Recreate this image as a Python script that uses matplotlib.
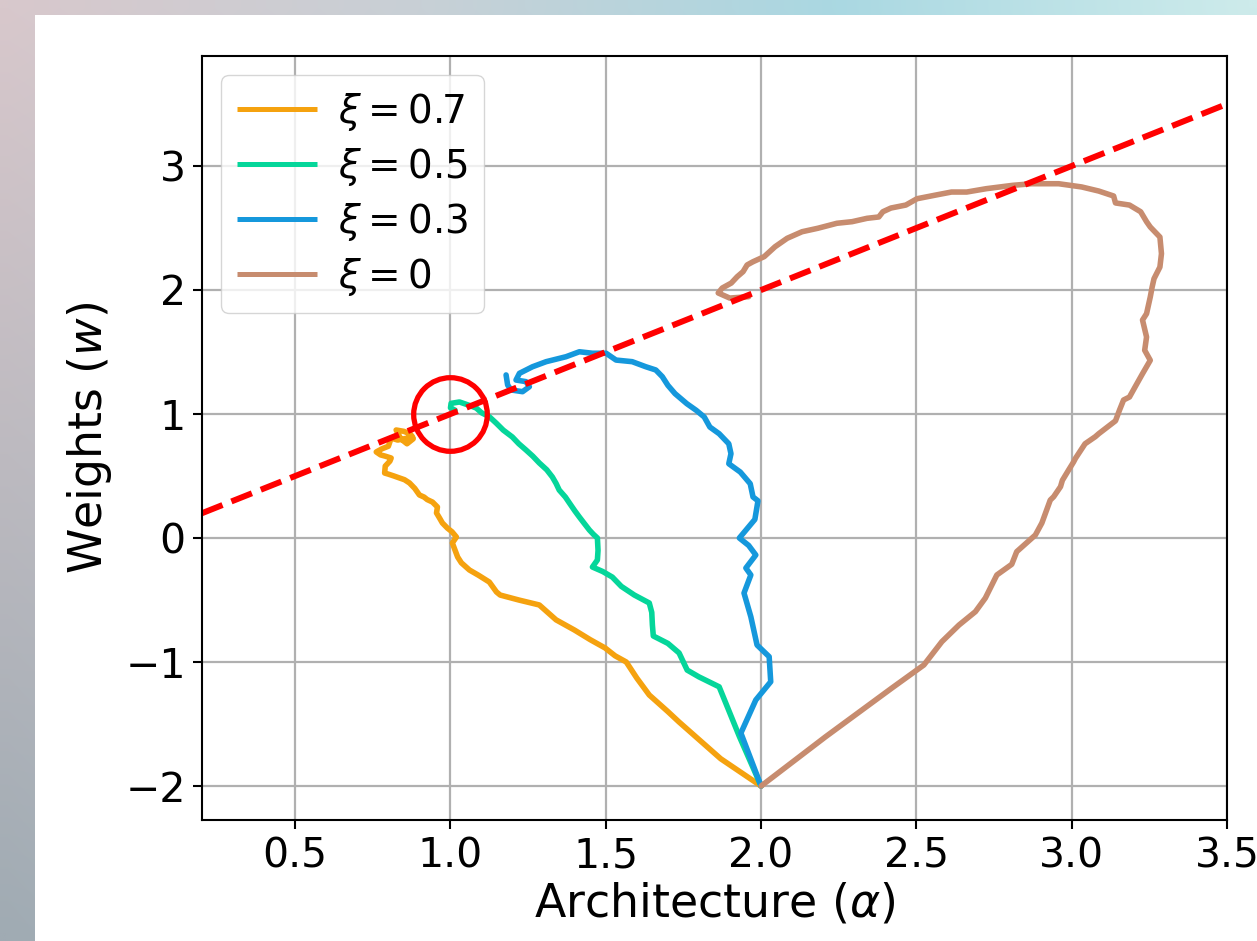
import numpy as np
import matplotlib
matplotlib.use("Agg")
import matplotlib.pyplot as plt
from matplotlib.patches import Rectangle

# ---------------- data ----------------
labels = [r"$\xi = 0.7$", r"$\xi = 0.5$", r"$\xi = 0.3$", r"$\xi = 0$"]
colors = ["#f5a20f", "#05d69a", "#1598dc", "#c78c6f"]

x_07 = [2.0, 1.87, 1.736, 1.70, 1.64, 1.60, 1.566, 1.53, 1.498, 1.45, 1.399, 1.34, 1.286, 1.22,
        1.16, 1.148, 1.125, 1.09, 1.061, 1.035, 1.023, 1.015, 1.006, 1.019, 1.005, 0.99, 0.974,
        0.965, 0.955, 0.958, 0.942, 0.925, 0.915, 0.900, 0.885, 0.868, 0.852, 0.836, 0.818, 0.80,
        0.788, 0.79, 0.805, 0.809, 0.79, 0.775, 0.761, 0.78, 0.80, 0.809, 0.83, 0.85, 0.878, 0.87,
        0.85, 0.825, 0.84, 0.86, 0.88]
y_07 = [-2.0, -1.78, -1.484, -1.40, -1.266, -1.13, -1.0, -0.95, -0.887, -0.82, -0.742, -0.66,
        -0.54, -0.50, -0.46, -0.435, -0.355, -0.30, -0.258, -0.20, -0.153, -0.10, -0.04, 0.008,
        0.05, 0.08, 0.121, 0.16, 0.202, 0.25, 0.29, 0.31, 0.33, 0.347, 0.40, 0.444, 0.47, 0.484,
        0.50, 0.515, 0.524, 0.58, 0.62, 0.645, 0.66, 0.67, 0.694, 0.72, 0.74, 0.806, 0.79, 0.80,
        0.815, 0.84, 0.86, 0.871, 0.80, 0.76, 0.80]

x_05 = [2.0, 1.93, 1.865, 1.80, 1.762, 1.736, 1.70, 1.653, 1.650, 1.648, 1.640, 1.592, 1.55,
        1.521, 1.49, 1.457, 1.473, 1.475, 1.473, 1.46, 1.447, 1.43, 1.415, 1.40, 1.383, 1.37,
        1.350, 1.34, 1.328, 1.31, 1.286, 1.265, 1.243, 1.22, 1.199, 1.17, 1.147, 1.125, 1.10,
        1.083, 1.06, 1.029, 1.002, 1.0, 1.015]
y_05 = [-2.0, -1.6, -1.20, -1.12, -1.065, -0.927, -0.85, -0.79, -0.70, -0.60, -0.524, -0.46,
        -0.39, -0.315, -0.27, -0.234, -0.177, -0.10, 0.0, 0.03, 0.065, 0.12, 0.169, 0.22, 0.282,
        0.33, 0.387, 0.44, 0.492, 0.55, 0.605, 0.66, 0.710, 0.76, 0.815, 0.87, 0.927, 0.978,
        1.01, 1.048, 1.07, 1.097, 1.086, 1.05, 1.03]

x_03 = [2.0, 1.935, 1.983, 2.031, 2.026, 1.987, 1.967, 1.945, 1.967, 1.951, 1.983, 1.96, 1.93,
        1.95, 1.98, 1.99, 1.974, 1.965, 1.933, 1.896, 1.903, 1.896, 1.865, 1.835, 1.817, 1.791,
        1.761, 1.723, 1.700, 1.682, 1.661, 1.629, 1.585, 1.533, 1.501, 1.457, 1.415, 1.372,
        1.308, 1.264, 1.222, 1.211, 1.243, 1.254, 1.232, 1.195, 1.184, 1.179]
y_03 = [-2.0, -1.573, -1.306, -1.159, -0.957, -0.863, -0.635, -0.444, -0.298, -0.242, -0.137,
        -0.06, 0.0, 0.06, 0.15, 0.30, 0.331, 0.438, 0.532, 0.599, 0.680, 0.760, 0.841, 0.895,
        0.976, 1.030, 1.083, 1.164, 1.231, 1.301, 1.355, 1.381, 1.422, 1.435, 1.490, 1.490,
        1.502, 1.462, 1.422, 1.381, 1.328, 1.274, 1.261, 1.220, 1.180, 1.194, 1.234, 1.315]

x_00 = [2.0, 2.208, 2.421, 2.524, 2.582, 2.637, 2.690, 2.722, 2.759, 2.807, 2.823, 2.883, 2.904,
        2.931, 2.942, 2.964, 2.970, 2.990, 3.006, 3.012, 3.043, 3.076, 3.087, 3.141, 3.154, 3.167,
        3.186, 3.204, 3.228, 3.253, 3.235, 3.241, 3.228, 3.241, 3.253, 3.259, 3.265, 3.284, 3.289,
        3.284, 3.253, 3.241, 3.222, 3.186, 3.141, 3.135, 3.087, 3.032, 2.958, 2.871, 2.810, 2.725,
        2.662, 2.613, 2.563, 2.502, 2.466, 2.418, 2.392, 2.379, 2.341, 2.293, 2.244, 2.183, 2.132,
        2.084, 2.045, 2.010, 1.974, 1.955, 1.942, 1.923, 1.904, 1.875, 1.862, 1.899, 1.960]
y_00 = [-2.0, -1.602, -1.21, -1.024, -0.836, -0.702, -0.594, -0.484, -0.298, -0.212, -0.11, 0.024,
        0.121, 0.306, 0.333, 0.414, 0.465, 0.548, 0.613, 0.642, 0.760, 0.817, 0.841, 0.945, 1.032,
        1.113, 1.137, 1.218, 1.325, 1.433, 1.514, 1.621, 1.758, 1.809, 1.944, 2.024, 2.091, 2.185,
        2.293, 2.427, 2.508, 2.551, 2.631, 2.685, 2.702, 2.758, 2.798, 2.831, 2.857, 2.857, 2.844,
        2.817, 2.790, 2.790, 2.766, 2.736, 2.685, 2.661, 2.631, 2.589, 2.578, 2.551, 2.538, 2.498,
        2.470, 2.417, 2.349, 2.269, 2.228, 2.202, 2.148, 2.107, 2.056, 2.016, 1.976, 1.935, 1.946]

series_x = [x_07, x_05, x_03, x_00]
series_y = [y_07, y_05, y_03, y_00]

line_x = [0.2, 3.5]          # dashed y = x line
target = (1.0, 1.0)          # circled point

xticks = [0.5, 1.0, 1.5, 2.0, 2.5, 3.0, 3.5]
yticks = [-2, -1, 0, 1, 2, 3]

# ---------------- figure ----------------
W, H = 1257, 941
fig = plt.figure(figsize=(W / 100, H / 100), dpi=100)

# background gradient outside the white figure area
bg = fig.add_axes([0, 0, 1, 1], zorder=-10)
bg.set_axis_off()
top_row = np.array([[216, 200, 204], [200, 208, 214], [170, 216, 226], [205, 235, 235]]) / 255
bot_row = np.array([[160, 171, 179], [170, 185, 195], [175, 200, 210], [190, 220, 225]]) / 255
ny, nx = 60, 80
xs = np.linspace(0, 3, nx)
rows_top = np.stack([np.interp(xs, [0, 1, 2, 3], top_row[:, c]) for c in range(3)], axis=-1)
rows_bot = np.stack([np.interp(xs, [0, 1, 2, 3], bot_row[:, c]) for c in range(3)], axis=-1)
t = np.linspace(0, 1, ny)[:, None, None]
img = (1 - t) * rows_top[None] + t * rows_bot[None]
bg.imshow(img, aspect="auto", extent=[0, 1, 0, 1], interpolation="bilinear")
bg.add_patch(Rectangle((35 / W, 0), 1 - 35 / W, 1 - 15 / H, facecolor="white",
                       edgecolor="none", transform=bg.transAxes))
bg.set_xlim(0, 1)
bg.set_ylim(0, 1)

ax = fig.add_axes([202 / W, 1 - 820 / H, (1227 - 202) / W, (820 - 56) / H])
ax.set_facecolor("white")

for xs_, ys_, c, lab in zip(series_x, series_y, colors, labels):
    ax.plot(xs_, ys_, color=c, lw=4.0, label=lab, solid_joinstyle="round",
            solid_capstyle="round")

ax.plot(line_x, line_x, color="red", lw=4.3, ls="--")
ax.plot([target[0]], [target[1]], marker="o", ms=53, mfc="none", mec="red", mew=3.8,
        ls="none")

ax.set_xlim(0.2, 3.5)
ax.set_ylim(-2.274, 3.887)
ax.set_xticks(xticks)
ax.set_yticks(yticks)
ax.grid(True, color="#b0b0b0", lw=1.6)
ax.set_axisbelow(True)
for s in ax.spines.values():
    s.set_linewidth(1.5)
ax.tick_params(labelsize=29.5, length=6.7, width=1.5, pad=5)
ax.set_xlabel(r"Architecture ($\alpha$)", fontsize=33, labelpad=4)
ax.set_ylabel(r"Weights ($w$)", fontsize=33, labelpad=8)

leg = ax.legend(loc="upper left", fontsize=28, framealpha=0.8, handlelength=2.05,
                labelspacing=0.33, handletextpad=0.55, borderaxespad=0.5)
for lh in leg.get_lines():
    lh.set_linewidth(3.6)
    lh.set_solid_capstyle("butt")

fig.savefig("out.png", dpi=100)
